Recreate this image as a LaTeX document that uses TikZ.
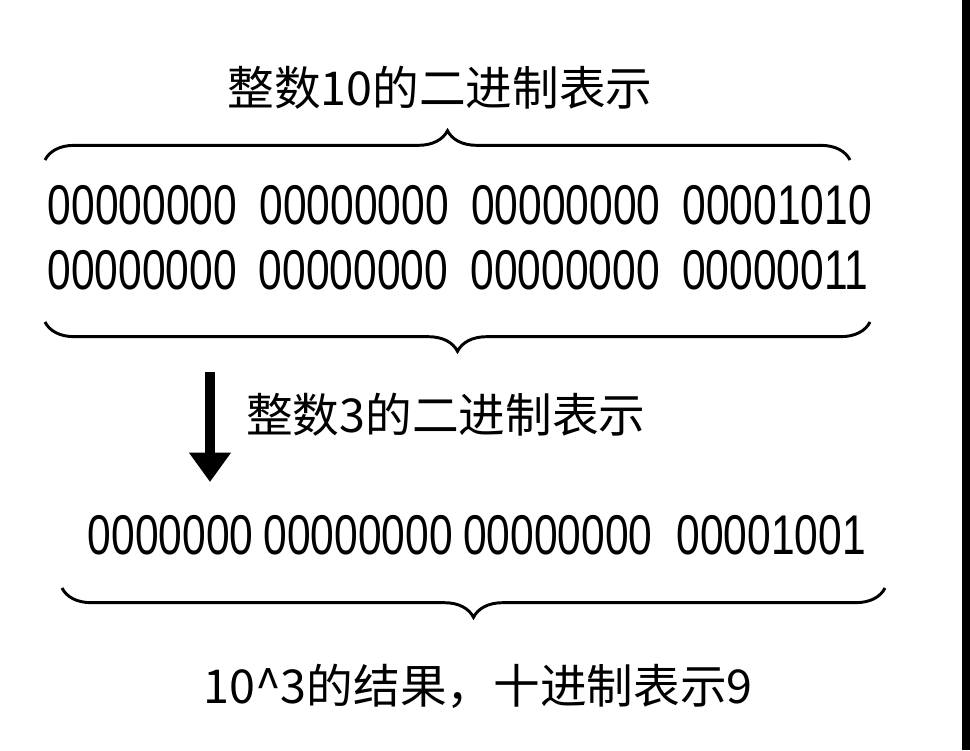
\documentclass[tikz,border=0pt]{standalone}
\usepackage{fontspec}
\setmainfont{Liberation Sans}
\newfontfamily\cjk{Noto Sans CJK SC}
\usetikzlibrary{decorations.pathreplacing,arrows.meta}
\newcommand{\gp}{\hspace{22pt}}
\begin{document}
\begin{tikzpicture}[x=0.75pt,y=-0.75pt,
  bits/.style={font=\fontsize{42}{42}\selectfont, xscale=0.76, inner sep=0},
  lbl/.style={font=\cjk\fontsize{35}{35}\selectfont, inner sep=0},
  br/.style={decorate,decoration={brace,amplitude=22pt},line width=2.2pt}]
\useasboundingbox (0,0) rectangle (970,750);
\fill[white] (0,0) rectangle (970,750);
\fill[black] (962,0) rectangle (970,750);
\node[lbl] (t1) at (440,88) {整数10的二进制表示};
\coordinate (a1) at (45,160); \coordinate (a2) at (850,160);
\draw[br] (a1) -- (a2);
\node[bits] (r1) at (460,205) {00000000\gp00000000\gp00000000\gp00001010};
\node[bits] (r2) at (458,270) {00000000\gp00000000\gp00000000\gp00000011};
\coordinate (b1) at (870,322); \coordinate (b2) at (45,322);
\draw[br] (b1) -- (b2);
\coordinate (p1) at (210,372); \coordinate (p2) at (210,482);
\draw[line width=7pt,-{Triangle[length=22pt,width=30pt]}] (p1) -- (p2);
\node[lbl,anchor=west] (t2) at (246,415) {整数3的二进制表示};
\node[bits] (r3) at (477,535) {0000000\hspace{10pt}00000000\hspace{10pt}00000000\hspace{24pt}00001001};
\coordinate (c1) at (885,588); \coordinate (c2) at (62,588);
\draw[br] (c1) -- (c2);
\node[lbl] (t3) at (478,686) {10\textasciicircum3的结果，十进制表示9};
\end{tikzpicture}
\end{document}
